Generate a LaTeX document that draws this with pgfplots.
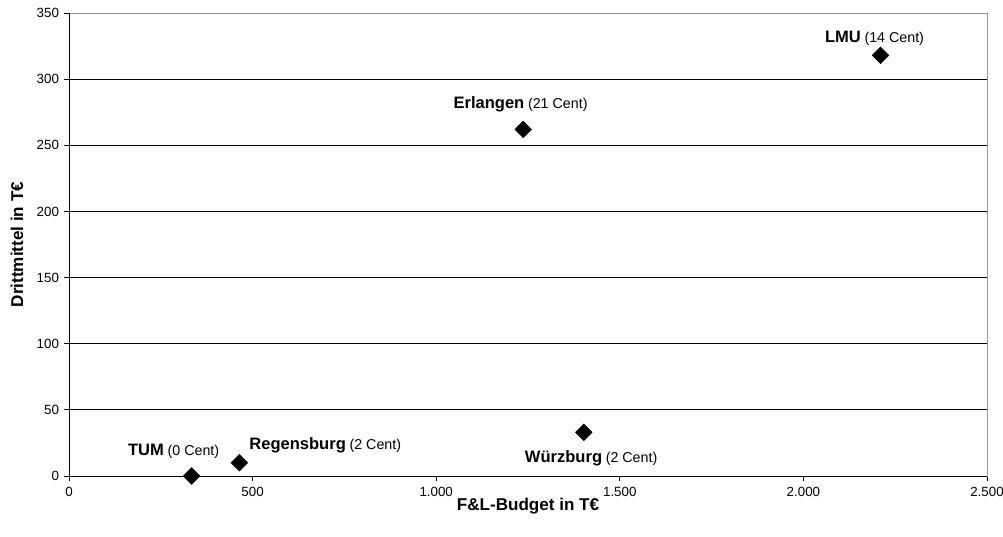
\documentclass[border=0pt]{standalone}
\usepackage{pgfplots}
\pgfplotsset{compat=1.18}
\usepackage{fontspec}
\setmainfont{Liberation Sans}

\begin{document}
\begin{tikzpicture}
% fixed page frame around the plot area
\path[use as bounding box] (-51.75pt,-45pt) rectangle (700.5pt,357pt);
\begin{axis}[
  at={(0,0)}, anchor=south west,
  scale only axis,
  width=688.5pt, height=347.25pt,
  xmin=0, xmax=2500, ymin=0, ymax=350,
  xtick={0,500,...,2500},
  ytick={0,50,...,350},
  /pgf/number format/1000 sep={.},
  /pgf/number format/assume math mode=true,
  tick label style={font=\fontsize{10}{12}\selectfont},
  tick align=outside,
  major tick length=4pt,
  xtick pos=bottom, ytick pos=left,
  tick style={black, line width=0.6pt},
  ymajorgrids,
  major grid style={black, line width=0.6pt},
  axis line style={draw=gray!80, line width=0.6pt},
  xlabel={\bfseries F\&L-Budget in T€},
  ylabel={\bfseries Drittmittel in T€},
  label style={font=\fontsize{12.8}{14}\selectfont},
  xlabel style={at={(axis description cs:0.5,0)}, anchor=center, yshift=-22.5pt},
  ylabel style={at={(axis description cs:-0.0565,0.5)}, anchor=center},
  xticklabel style={yshift=-1pt},
  clip=false,
]
\draw[black, line width=0.6pt] (rel axis cs:0,0) -- (rel axis cs:0,1);
\draw[black, line width=0.6pt] (rel axis cs:0,0) -- (rel axis cs:1,0);

\addplot[only marks, mark=square*, mark size=4.4pt, mark options={rotate=45, fill=black, draw=black}]
  coordinates {
    (334,0)    % TUM
    (464,10)   % Regensburg
    (1402,33)  % Wuerzburg
    (1237,262) % Erlangen
    (2210,318) % LMU
  };

\def\lab#1#2{{\fontsize{12.4}{14}\selectfont\bfseries #1} {\fontsize{10.7}{12}\selectfont(#2 Cent)}}
\node[anchor=center] at (axis cs:334,0) [xshift=-13.5pt, yshift=18.5pt] {\lab{TUM}{0}};
\node[anchor=west] at (axis cs:464,10) [xshift=4pt, yshift=13pt] {\lab{Regensburg}{2}};
\node[anchor=center] at (axis cs:1402,33) [xshift=5.5pt, yshift=-19.5pt] {\lab{Würzburg}{2}};
\node[anchor=center] at (axis cs:1237,262) [xshift=-2pt, yshift=19pt] {\lab{Erlangen}{21}};
\node[anchor=center] at (axis cs:2210,318) [xshift=-4.5pt, yshift=12.5pt] {\lab{LMU}{14}};
\end{axis}
\end{tikzpicture}
\end{document}
